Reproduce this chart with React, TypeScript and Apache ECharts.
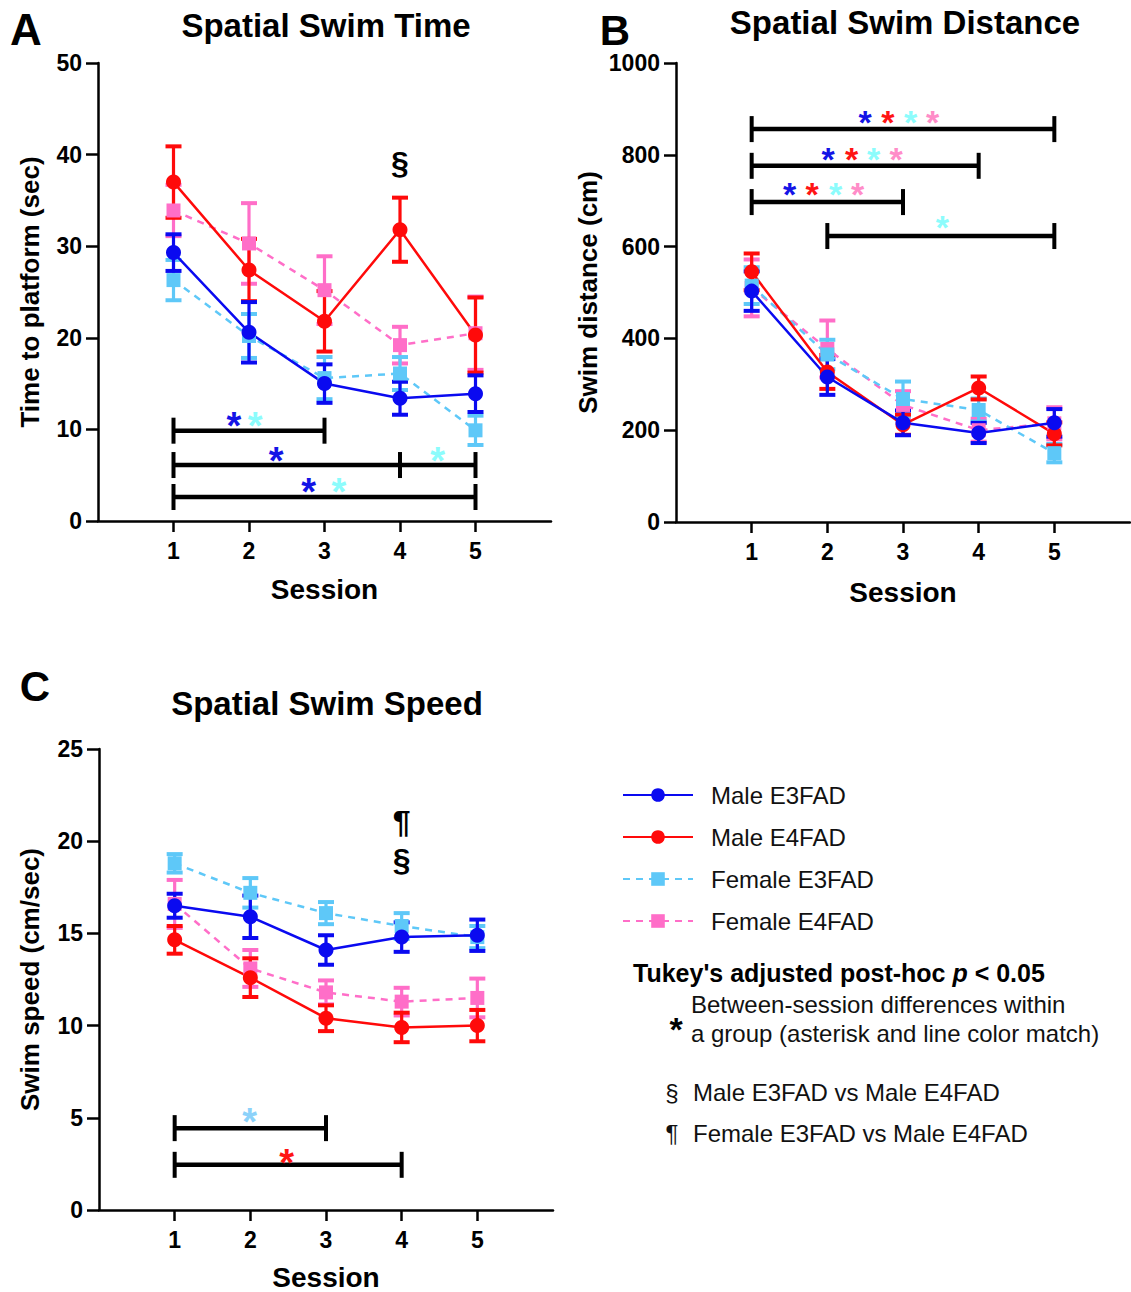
import React, { useEffect, useRef } from "react";
import * as echarts from "echarts";

const FONT = '"Liberation Sans", Arial, Helvetica, sans-serif';

const sessions = [1, 2, 3, 4, 5];
const groupNames = ["Male E3FAD", "Male E4FAD", "Female E3FAD", "Female E4FAD"];
const groupColors = ["#0a0af0", "#ff0a0a", "#5ec8f8", "#ff6ec8"];
const groupDashed = [false, false, true, true];
const groupSymbols = ["circle", "circle", "rect", "rect"];
const drawOrder = [3, 2, 1, 0];

// Panel A: time to platform (sec)
const timeMaleE3 = [29.3, 20.6, 15.0, 13.4, 13.9];
const timeMaleE3Err = [2.0, 3.3, 2.1, 1.8, 2.0];
const timeMaleE4 = [37.0, 27.4, 21.8, 31.8, 20.3];
const timeMaleE4Err = [3.9, 3.4, 3.3, 3.5, 4.1];
const timeFemE3 = [26.3, 20.2, 15.6, 16.1, 9.9];
const timeFemE3Err = [2.2, 2.4, 2.3, 1.8, 1.6];
const timeFemE4 = [33.9, 30.3, 25.2, 19.2, 20.5];
const timeFemE4Err = [2.8, 4.4, 3.7, 2.0, 4.0];

// Panel B: swim distance (cm)
const distMaleE3 = [503, 316, 216, 194, 216];
const distMaleE3Err = [43, 39, 27, 22, 30];
const distMaleE4 = [545, 327, 212, 292, 192];
const distMaleE4Err = [40, 37, 22, 25, 25];
const distFemE3 = [515, 365, 268, 244, 150];
const distFemE3Err = [40, 32, 38, 25, 20];
const distFemE4 = [510, 377, 255, 200, 215];
const distFemE4Err = [62, 62, 30, 25, 35];

// Panel C: swim speed (cm/sec)
const speedMaleE3 = [16.5, 15.9, 14.1, 14.8, 14.9];
const speedMaleE3Err = [0.65, 1.15, 0.8, 0.8, 0.85];
const speedMaleE4 = [14.65, 12.6, 10.4, 9.9, 10.0];
const speedMaleE4Err = [0.75, 1.05, 0.7, 0.8, 0.85];
const speedFemE3 = [18.8, 17.2, 16.1, 15.4, 14.8];
const speedFemE3Err = [0.5, 0.8, 0.6, 0.7, 0.6];
const speedFemE4 = [16.6, 13.1, 11.8, 11.3, 11.5];
const speedFemE4Err = [1.3, 1.0, 0.65, 0.75, 1.05];

// Significance brackets (session ticks, y value)
const timeBarTicks = [[1, 3], [1, 4, 5], [1, 5]];
const timeBarY = [9.86, 6.11, 2.62];
const distBarTicks = [[1, 5], [1, 4], [1, 3], [2, 5]];
const distBarY = [856, 776, 697, 623];
const speedBarTicks = [[1, 3], [1, 4]];
const speedBarY = [4.44, 2.45];

// Asterisks
const starColors: Record<string, string> = {
  blue: "#1414e6",
  red: "#ff1414",
  cyan: "#8cfcfc",
  pink: "#ff8cc8",
  sky: "#8cd2fa",
};
const timeStarX = [1.8, 2.08, 2.36, 4.5, 2.79, 3.19];
const timeStarY = [11.2, 11.2, 7.4, 7.4, 4.0, 4.0];
const timeStarC = ["blue", "cyan", "blue", "cyan", "blue", "cyan"];
const distStarX = [2.5, 2.8, 3.1, 3.39, 2.01, 2.32, 2.61, 2.91, 1.5, 1.8, 2.11, 2.4, 3.52];
const distStarY = [887, 887, 887, 887, 806, 806, 806, 806, 730, 730, 730, 730, 658];
const distStarC = ["blue", "red", "cyan", "pink", "blue", "red", "cyan", "pink", "blue", "red", "cyan", "pink", "cyan"];
const speedStarX = [1.99, 2.48];
const speedStarY = [5.2, 3.0];
const speedStarC = ["sky", "red"];

// Group-difference marks
const timeMarkX = [4];
const timeMarkY = [39.1];
const timeMarkText = ["§"];
const speedMarkX = [4, 4];
const speedMarkY = [21.05, 19.0];
const speedMarkText = ["¶", "§"];

function lineSeries(axis: number, g: number, vals: number[]) {
  return {
    type: "line",
    name: groupNames[g],
    xAxisIndex: axis,
    yAxisIndex: axis,
    data: sessions.map((s, i) => [s, vals[i]]),
    symbol: groupSymbols[g],
    symbolSize: groupSymbols[g] === "rect" ? 14 : 15,
    showSymbol: true,
    silent: true,
    lineStyle: { color: groupColors[g], width: 2.5, type: groupDashed[g] ? [7, 6] : "solid" },
    itemStyle: { color: groupColors[g] },
  };
}

function errSeries(axis: number, g: number, vals: number[], errs: number[]) {
  const color = groupColors[g];
  return {
    type: "custom",
    xAxisIndex: axis,
    yAxisIndex: axis,
    silent: true,
    data: sessions.map((s, i) => [s, vals[i] - errs[i], vals[i] + errs[i]]),
    encode: { x: 0, y: [1, 2] },
    renderItem: (_p: any, api: any) => {
      const x = api.value(0);
      const lo = api.coord([x, api.value(1)]);
      const hi = api.coord([x, api.value(2)]);
      const w = 8;
      const st = { stroke: color, lineWidth: 3.2 };
      return {
        type: "group",
        children: [
          { type: "line", shape: { x1: lo[0], y1: lo[1], x2: hi[0], y2: hi[1] }, style: st },
          { type: "line", shape: { x1: lo[0] - w, y1: lo[1], x2: lo[0] + w, y2: lo[1] }, style: { stroke: color, lineWidth: 4 } },
          { type: "line", shape: { x1: hi[0] - w, y1: hi[1], x2: hi[0] + w, y2: hi[1] }, style: { stroke: color, lineWidth: 4 } },
        ],
      };
    },
  };
}

function barSeries(axis: number, ticks: number[][], ys: number[]) {
  return {
    type: "custom",
    xAxisIndex: axis,
    yAxisIndex: axis,
    silent: true,
    z: 5,
    data: ys.map((y, i) => [ticks[i][0], y, i]),
    renderItem: (_p: any, api: any) => {
      const i = api.value(2);
      const pts = ticks[i].map((t) => api.coord([t, ys[i]]));
      const children: any[] = [
        {
          type: "line",
          shape: { x1: pts[0][0], y1: pts[0][1], x2: pts[pts.length - 1][0], y2: pts[0][1] },
          style: { stroke: "#000", lineWidth: 4.5 },
        },
      ];
      pts.forEach((p) =>
        children.push({
          type: "line",
          shape: { x1: p[0], y1: p[1] - 13, x2: p[0], y2: p[1] + 13 },
          style: { stroke: "#000", lineWidth: 4 },
        })
      );
      return { type: "group", children };
    },
  };
}

function textSeries(
  axis: number,
  xs: number[],
  ys: number[],
  texts: string[],
  colors: string[],
  size: number,
  dy: number,
  lineHeight: number
) {
  return {
    type: "custom",
    xAxisIndex: axis,
    yAxisIndex: axis,
    silent: true,
    z: 6,
    data: xs.map((x, i) => [x, ys[i], i]),
    renderItem: (_p: any, api: any) => {
      const i = api.value(2);
      const p = api.coord([xs[i], ys[i]]);
      return {
        type: "text",
        x: p[0],
        y: p[1] + dy,
        style: {
          text: texts[i],
          fill: colors[i],
          font: `bold ${size}px ${FONT}`,
          lineHeight,
          align: "center",
          verticalAlign: "middle",
          textAlign: "center",
          textVerticalAlign: "middle",
        },
      };
    },
  };
}

function xAxisCfg(grid: number, gap: number) {
  return {
    type: "value",
    gridIndex: grid,
    min: 0,
    max: 6,
    interval: 1,
    name: "Session",
    nameLocation: "middle",
    nameGap: gap,
    nameTextStyle: { fontSize: 28, fontWeight: "bold", color: "#000", fontFamily: FONT },
    axisLine: { show: true, onZero: false, lineStyle: { color: "#000", width: 2.5 } },
    axisTick: { show: true, length: 11, customValues: sessions, lineStyle: { color: "#000", width: 2.5 } },
    axisLabel: {
      customValues: sessions,
      margin: 18,
      fontSize: 23,
      fontWeight: "bold",
      color: "#000",
      fontFamily: FONT,
      formatter: (v: number) => (v >= 1 && v <= 5 ? String(v) : ""),
    },
    splitLine: { show: false },
  };
}

function yAxisCfg(grid: number, name: string, max: number, interval: number, gap: number) {
  return {
    type: "value",
    gridIndex: grid,
    min: 0,
    max,
    interval,
    name,
    nameLocation: "middle",
    nameGap: gap,
    nameTextStyle: { fontSize: 26, fontWeight: "bold", color: "#000", fontFamily: FONT },
    axisLine: { show: true, lineStyle: { color: "#000", width: 2.5 } },
    axisTick: { show: true, length: 12, lineStyle: { color: "#000", width: 2.5 } },
    axisLabel: {
      margin: 16,
      fontSize: 23,
      fontWeight: "bold",
      color: "#000",
      fontFamily: FONT,
      formatter: (v: number) => String(v),
    },
    splitLine: { show: false },
  };
}

function panelSeries(axis: number, vals: number[][], errs: number[][]) {
  const out: any[] = [];
  drawOrder.forEach((g) => {
    out.push(errSeries(axis, g, vals[g], errs[g]));
    out.push(lineSeries(axis, g, vals[g]));
  });
  return out;
}

function txt(text: string, x: number, y: number, font: string, align = "left", fill = "#111") {
  return {
    type: "text",
    x,
    y,
    silent: true,
    style: { text, x: 0, y: 0, font, fill, align, verticalAlign: "middle", textAlign: align, textVerticalAlign: "middle" },
  };
}

export default function App() {
  const ref = useRef<HTMLDivElement>(null);
  useEffect(() => {
    if (!ref.current) return;
    const chart = echarts.init(ref.current, undefined, { renderer: "svg" });
    const starTextA = timeStarC.map(() => "*");
    const starTextB = distStarC.map(() => "*");
    const starTextC = speedStarC.map(() => "*");
    const option: any = {
      animation: false,
      backgroundColor: "#ffffff",
      grid: [
        { left: 98, top: 63, width: 453, height: 458 },
        { left: 676, top: 63, width: 454, height: 459 },
        { left: 99, top: 749, width: 454, height: 462 },
      ],
      xAxis: [xAxisCfg(0, 54), xAxisCfg(1, 56), xAxisCfg(2, 53)],
      yAxis: [
        yAxisCfg(0, "Time to platform (sec)", 50, 10, 55),
        yAxisCfg(1, "Swim distance (cm)", 1000, 200, 75),
        yAxisCfg(2, "Swim speed (cm/sec)", 25, 5, 56),
      ],
      legend: {
        data: groupNames,
        orient: "vertical",
        left: 622,
        top: 783,
        padding: 0,
        itemWidth: 70,
        itemHeight: 17,
        itemGap: 18,
        selectedMode: false,
        textStyle: { fontSize: 24, fontFamily: FONT, color: "#111", padding: [0, 0, 0, 13], lineHeight: 24 },
      },
      graphic: [
        txt("A", 26, 29, `bold 44px ${FONT}`, "center", "#000"),
        txt("B", 615, 30, `bold 42px ${FONT}`, "center", "#000"),
        txt("C", 35, 686, `bold 42px ${FONT}`, "center", "#000"),
        txt("Spatial Swim Time", 326, 25, `bold 33px ${FONT}`, "center", "#000"),
        txt("Spatial Swim Distance", 905, 22, `bold 33px ${FONT}`, "center", "#000"),
        txt("Spatial Swim Speed", 327, 703, `bold 33px ${FONT}`, "center", "#000"),
        {
          type: "text",
          x: 633,
          y: 973,
          silent: true,
          style: {
            text: "{a|Tukey's adjusted post-hoc }{p|p}{a| < 0.05}",
            verticalAlign: "middle",
            textVerticalAlign: "middle",
            rich: {
              a: { font: `bold 25px ${FONT}`, fill: "#000", color: "#000" },
              p: { font: `italic bold 25px ${FONT}`, fill: "#000", color: "#000" },
            },
          },
        },
        txt("*", 676, 1029, `bold 34px ${FONT}`, "center", "#000"),
        txt("Between-session differences within", 691, 1004, `24px ${FONT}`),
        txt("a group (asterisk and line color match)", 691, 1033, `24px ${FONT}`),
        txt("§", 672, 1092, `24px ${FONT}`, "center"),
        txt("Male E3FAD vs Male E4FAD", 693, 1092, `24px ${FONT}`),
        txt("¶", 672, 1133, `24px ${FONT}`, "center"),
        txt("Female E3FAD vs Male E4FAD", 693, 1133, `24px ${FONT}`),
      ],
      series: [
        ...panelSeries(
          0,
          [timeMaleE3, timeMaleE4, timeFemE3, timeFemE4],
          [timeMaleE3Err, timeMaleE4Err, timeFemE3Err, timeFemE4Err]
        ),
        ...panelSeries(
          1,
          [distMaleE3, distMaleE4, distFemE3, distFemE4],
          [distMaleE3Err, distMaleE4Err, distFemE3Err, distFemE4Err]
        ),
        ...panelSeries(
          2,
          [speedMaleE3, speedMaleE4, speedFemE3, speedFemE4],
          [speedMaleE3Err, speedMaleE4Err, speedFemE3Err, speedFemE4Err]
        ),
        barSeries(0, timeBarTicks, timeBarY),
        barSeries(1, distBarTicks, distBarY),
        barSeries(2, speedBarTicks, speedBarY),
        textSeries(0, timeStarX, timeStarY, starTextA, timeStarC.map((c) => starColors[c]), 38, 8, 20),
        textSeries(1, distStarX, distStarY, starTextB, distStarC.map((c) => starColors[c]), 34, 7, 20),
        textSeries(2, speedStarX, speedStarY, starTextC, speedStarC.map((c) => starColors[c]), 38, 8, 20),
        textSeries(0, timeMarkX, timeMarkY, timeMarkText, timeMarkText.map(() => "#000"), 32, 0, 34),
        textSeries(2, speedMarkX, speedMarkY, speedMarkText, speedMarkText.map(() => "#000"), 32, 0, 34),
      ],
    };
    chart.setOption(option);
    return () => chart.dispose();
  }, []);
  return (
    <div
      ref={ref}
      style={{ position: "absolute", left: 0, top: 0, width: 1131, height: 1292, background: "#fff" }}
    />
  );
}
